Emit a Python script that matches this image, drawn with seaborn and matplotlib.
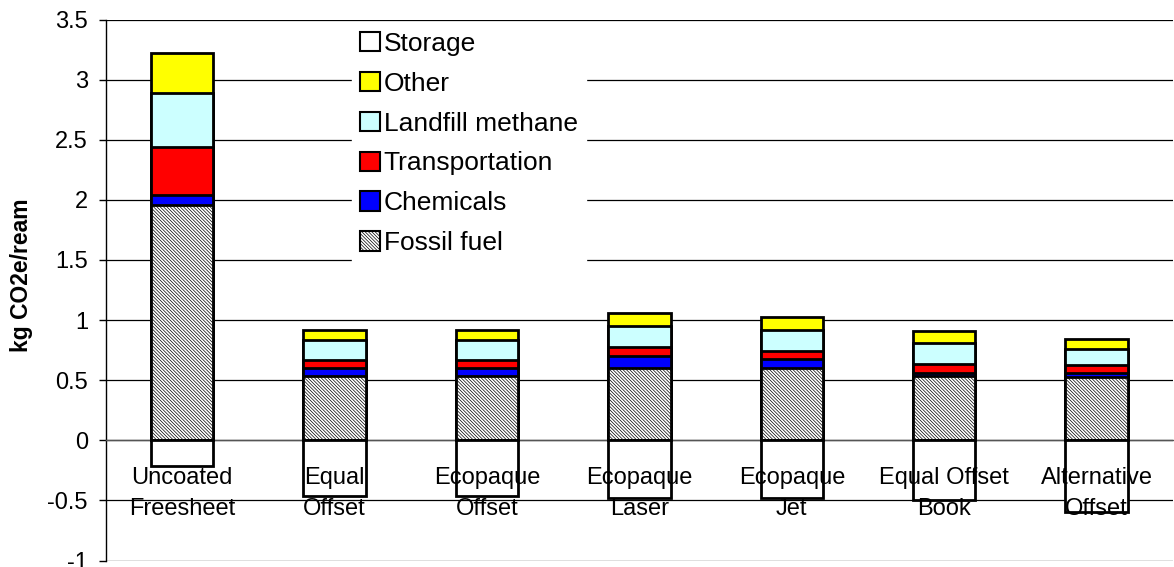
import numpy as np
import pandas as pd
import matplotlib
matplotlib.use("Agg")
import matplotlib.pyplot as plt
import matplotlib.patches as mpatches
import matplotlib.transforms as mtransforms
from matplotlib.ticker import MultipleLocator, FixedLocator
import seaborn as sns

# -------------------------
# Data (kg CO2e per ream)
# -------------------------
categories = ["Uncoated\nFreesheet", "Equal\nOffset", "Ecopaque\nOffset",
              "Ecopaque\nLaser", "Ecopaque\nJet", "Equal Offset\nBook",
              "Alternative\nOffset"]
fossil_fuel = [1.958, 0.536, 0.536, 0.603, 0.598, 0.531, 0.523]
chemicals = [0.080, 0.064, 0.064, 0.097, 0.082, 0.030, 0.035]
transportation = [0.400, 0.069, 0.069, 0.074, 0.063, 0.070, 0.066]
landfill_methane = [0.450, 0.161, 0.161, 0.174, 0.172, 0.176, 0.132]
other = [0.330, 0.087, 0.087, 0.113, 0.107, 0.099, 0.083]
storage = [-0.21, -0.465, -0.465, -0.476, -0.478, -0.498, -0.600]

layer_names = ["Fossil fuel", "Chemicals", "Transportation", "Landfill methane", "Other"]
layer_colors = ["white", "#0000FF", "#FF0000", "#CCFFFF", "#FFFF00"]
FOSSIL_HATCH = "\\" * 10

df = pd.DataFrame({
    "category": categories,
    "Fossil fuel": fossil_fuel,
    "Chemicals": chemicals,
    "Transportation": transportation,
    "Landfill methane": landfill_methane,
    "Other": other,
    "Storage": storage,
})
cum = df[layer_names].cumsum(axis=1)

# -------------------------
# Style
# -------------------------
sns.set_style("white")
plt.rcParams["font.family"] = ["Liberation Sans", "DejaVu Sans"]
plt.rcParams["hatch.linewidth"] = 0.5
for key in ["text.color", "axes.labelcolor", "xtick.color", "ytick.color"]:
    plt.rcParams[key] = "black"

fig = plt.figure(figsize=(11.74, 5.67), dpi=100)
ax = fig.add_axes([106 / 1174, 1 - 560.5 / 567, 1 - 106 / 1174 - 0.001, 541 / 567])

BAR_W = 0.41
EDGE_LW = 2

# stacked bars: draw cumulative totals from the top layer down
for name, color in list(zip(layer_names, layer_colors))[::-1]:
    kw = dict(hatch=FOSSIL_HATCH) if name == "Fossil fuel" else {}
    sns.barplot(x=df["category"], y=cum[name], color=color, saturation=1,
                width=BAR_W, edgecolor="black", linewidth=EDGE_LW,
                ax=ax, zorder=3, **kw)

# negative storage credit
sns.barplot(x=df["category"], y=df["Storage"], color="white", saturation=1,
            width=BAR_W, edgecolor="black", linewidth=EDGE_LW, ax=ax, zorder=3)

# -------------------------
# Axes
# -------------------------
ax.set_ylim(-1, 3.5)
ax.set_xlim(-0.5, len(categories) - 0.5)
ax.yaxis.set_major_locator(MultipleLocator(0.5))
ax.set_yticklabels([f"{v:g}" for v in ax.get_yticks()])
ax.yaxis.grid(True, color="black", linewidth=0.9)
ax.set_axisbelow(True)

for s in ["top", "right"]:
    ax.spines[s].set_visible(False)
ax.spines["left"].set_color("black")
ax.spines["left"].set_linewidth(1)
ax.spines["bottom"].set_position(("data", 0))
ax.spines["bottom"].set_color("#555555")
ax.spines["bottom"].set_linewidth(1)

ax.xaxis.set_minor_locator(FixedLocator(np.arange(-0.5, len(categories), 1.0)))
ax.tick_params(axis="x", which="major", length=0, labelbottom=False)
ax.tick_params(axis="x", which="minor", length=6, width=1, color="black", direction="out")
ax.tick_params(axis="y", which="major", length=5, width=1, color="black",
               direction="out", pad=8, labelsize=17, left=True)

# category labels sit on top of the storage bars, like the original
offset = mtransforms.ScaledTranslation(0, -27 / 100, fig.dpi_scale_trans)
for i, cat in enumerate(categories):
    ax.text(i, 0, cat, transform=ax.transData + offset, ha="center", va="top",
            fontsize=17, linespacing=1.5, zorder=7)

ax.set_xlabel("")
ax.set_ylabel("kg CO2e/ream", fontsize=16.5, fontweight="bold")
ax.yaxis.set_label_coords(-0.068, 0.527)

# -------------------------
# Legend
# -------------------------
handles = [mpatches.Patch(facecolor="white", edgecolor="black", linewidth=1.5, label="Storage")]
for name, color in list(zip(layer_names, layer_colors))[::-1]:
    hatch = FOSSIL_HATCH if name == "Fossil fuel" else None
    handles.append(mpatches.Patch(facecolor=color, edgecolor="black", linewidth=1.5,
                                  hatch=hatch, label=name))
leg = ax.legend(handles=handles, loc="upper left",
                bbox_to_anchor=(352 / 1174, 1 - 24 / 567),
                bbox_transform=fig.transFigure, borderaxespad=0,
                fontsize=19, frameon=True, fancybox=False, framealpha=1,
                facecolor="white", edgecolor="white",
                handlelength=0.75, handleheight=0.75, handletextpad=0.15,
                labelspacing=0.6, borderpad=0.3)
leg.set_zorder(6)

fig.savefig("out.png", dpi=100)
